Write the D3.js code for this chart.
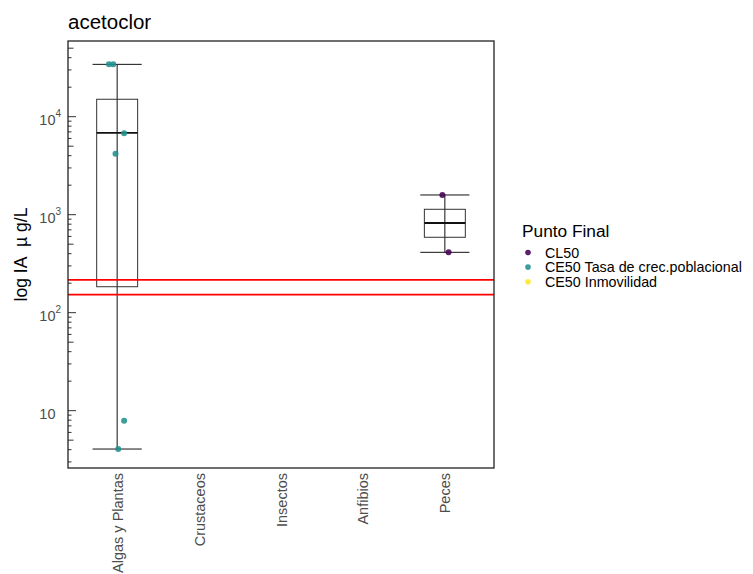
<!DOCTYPE html>
<html>
<head>
<meta charset="utf-8">
<script src="https://cdn.jsdelivr.net/npm/d3@7"></script>
<style>
  body { margin: 0; background: #fff; }
  svg { display: block; font-family: "Liberation Sans", Arial, sans-serif; }
</style>
</head>
<body>
<svg id="chart" width="753" height="574"></svg>
<script>
// ---------- data ----------
const title = "acetoclor";
const categories = ["Algas y Plantas", "Crustaceos", "Insectos", "Anfibios", "Peces"];
const endpoints = ["CL50", "CE50 Tasa de crec.poblacional", "CE50 Inmovilidad"];
const endpointColors = ["#440154", "#21908C", "#FDE725"];

// box summaries (one per category having data)
const boxCategory = ["Algas y Plantas", "Peces"];
const boxLower  = [4.06, 413];
const boxQ1     = [184, 588];
const boxMedian = [6850, 822];
const boxQ3     = [15060, 1135];
const boxUpper  = [34200, 1589];

// individual points
const pointCategory = ["Algas y Plantas", "Algas y Plantas", "Algas y Plantas", "Algas y Plantas", "Algas y Plantas", "Algas y Plantas", "Peces", "Peces"];
const pointValue    = [34200, 34200, 6770, 4190, 7.9, 4.06, 1589, 413];
const pointEndpoint = ["CE50 Tasa de crec.poblacional", "CE50 Tasa de crec.poblacional", "CE50 Tasa de crec.poblacional", "CE50 Tasa de crec.poblacional", "CE50 Tasa de crec.poblacional", "CE50 Tasa de crec.poblacional", "CL50", "CL50"];
const pointJitter   = [-0.10, -0.048, 0.085, -0.02, 0.085, 0.013, -0.03, 0.045];

// reference lines
const refLines = [216, 153];

// y tick labels
const yTickValues = [10, 100, 1000, 10000];
const yTickBase = ["10", "10", "10", "10"];
const yTickExp  = ["", "2", "3", "4"];

const yTitle = "log IA\u00a0\u00a0\u00b5 g/L";
const legendTitle = "Punto Final";

// ---------- layout ----------
const svg = d3.select("#chart");
const P = { left: 68, right: 494, top: 41, bottom: 468 };

const x = d3.scalePoint().domain(categories).range([P.left, P.right]).padding(0.6);
const step = x.step();
const y = d3.scaleLog().domain([2.6, 59200]).range([P.bottom, P.top]);

const g = svg.append("g");

// log ticks inside panel (left)
const minor = [];
for (let e = 0; e <= 4; e++) {
  for (let m = 1; m <= 9; m++) {
    const v = m * Math.pow(10, e);
    if (v >= y.domain()[0] && v <= y.domain()[1]) minor.push({ v, m });
  }
}
g.selectAll("line.lt").data(minor).join("line")
  .attr("x1", P.left).attr("x2", d => P.left + (d.m === 1 ? 8 : d.m === 5 ? 5.5 : 3.5))
  .attr("y1", d => y(d.v)).attr("y2", d => y(d.v))
  .attr("stroke", "#333").attr("stroke-width", 1);

// y tick labels
const yl = g.selectAll("text.yt").data(yTickValues).join("text")
  .attr("x", 55.5).attr("y", d => y(d) + 8)
  .attr("font-size", 14.5).attr("fill", "#4d4d4d").attr("text-anchor", "start");
yl.each(function(d, i) {
  const t = d3.select(this);
  t.append("tspan").text(yTickBase[i]);
  if (yTickExp[i]) t.append("tspan").attr("dy", -8).attr("font-size", 10).text(yTickExp[i]);
});
yl.each(function(d, i) {
  const base = d3.select(this).select("tspan").node();
  const w = base.getComputedTextLength();
  d3.select(this).attr("x", 55.5 - w);
});

// boxes
const boxes = boxCategory.map((c, i) => ({ c, lo: boxLower[i], q1: boxQ1[i], med: boxMedian[i], q3: boxQ3[i], hi: boxUpper[i] }));
const bw = step * 0.5, cw = step * 0.6;
boxes.forEach(b => {
  const cx = x(b.c);
  g.append("line").attr("x1", cx).attr("x2", cx).attr("y1", y(b.lo)).attr("y2", y(b.hi))
    .attr("stroke", "#111").attr("stroke-width", 1);
  [b.lo, b.hi].forEach(v => g.append("line")
    .attr("x1", cx - cw / 2).attr("x2", cx + cw / 2).attr("y1", y(v)).attr("y2", y(v))
    .attr("stroke", "#111").attr("stroke-width", 1));
  g.append("rect").attr("x", cx - bw / 2).attr("width", bw)
    .attr("y", y(b.q3)).attr("height", y(b.q1) - y(b.q3))
    .attr("fill", "none").attr("stroke", "#333").attr("stroke-width", 1);
  g.append("line").attr("x1", cx - bw / 2).attr("x2", cx + bw / 2).attr("y1", y(b.med)).attr("y2", y(b.med))
    .attr("stroke", "#111").attr("stroke-width", 1.8);
});

// reference lines
g.selectAll("line.ref").data(refLines).join("line")
  .attr("x1", P.left).attr("x2", P.right)
  .attr("y1", d => y(d)).attr("y2", d => y(d))
  .attr("stroke", "#ff0000").attr("stroke-width", 1.6);

// points
const color = d3.scaleOrdinal().domain(endpoints).range(endpointColors);
const pts = pointValue.map((v, i) => ({ v, c: pointCategory[i], e: pointEndpoint[i], j: pointJitter[i] }));
g.selectAll("circle.pt").data(pts).join("circle")
  .attr("cx", d => x(d.c) + d.j * step).attr("cy", d => y(d.v)).attr("r", 3)
  .attr("fill", d => color(d.e)).attr("fill-opacity", 0.88);

// panel border
g.append("rect").attr("x", P.left).attr("y", P.top)
  .attr("width", P.right - P.left).attr("height", P.bottom - P.top)
  .attr("fill", "none").attr("stroke", "#222").attr("stroke-width", 1.3);

// x labels
g.selectAll("text.xl").data(categories).join("text")
  .attr("transform", d => `translate(${x(d)},473) rotate(-90)`)
  .attr("text-anchor", "end").attr("dy", "0.38em")
  .attr("font-size", 14.5).attr("fill", "#4d4d4d").text(d => d);

// y title
svg.append("text")
  .attr("transform", `translate(27,${(P.top + P.bottom) / 2}) rotate(-90)`)
  .attr("text-anchor", "middle").attr("font-size", 17.5).attr("fill", "#000").text(yTitle);

// title
svg.append("text").attr("x", 68).attr("y", 29).attr("font-size", 20.5).attr("fill", "#000").text(title);

// legend
const lg = svg.append("g");
lg.append("text").attr("x", 522).attr("y", 237).attr("font-size", 17.3).attr("fill", "#000").text(legendTitle);
endpoints.forEach((e, i) => {
  const cy = 252.5 + i * 14.6;
  lg.append("circle").attr("cx", 528).attr("cy", cy).attr("r", 2.8).attr("fill", endpointColors[i]).attr("fill-opacity", 0.88);
  lg.append("text").attr("x", 545).attr("y", cy + 5).attr("font-size", 14.3).attr("fill", "#000").text(e);
});
</script>
</body>
</html>
